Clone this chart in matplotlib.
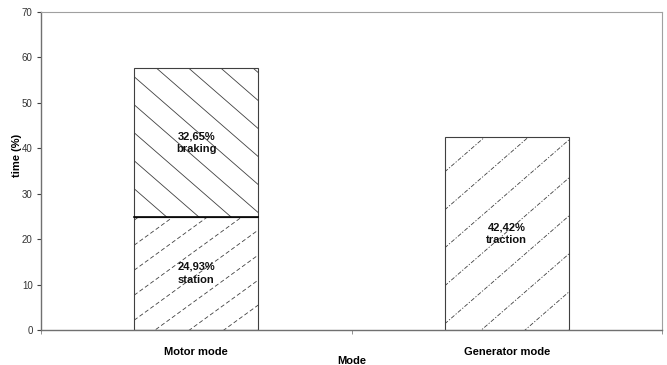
import numpy as np
import matplotlib
matplotlib.use("Agg")
import matplotlib.pyplot as plt
from matplotlib.transforms import IdentityTransform

plt.rcParams['font.family'] = ['Liberation Sans', 'DejaVu Sans']

modes = ["Motor mode", "Generator mode"]
station = [24.93, 0.0]
braking = [32.65, 0.0]
traction = [0.0, 42.42]


def fmt(v):
    return ("%.2f%%" % v).replace(".", ",")


def hatch_lines(ax, patch, angle, step, dashes, color="#404040", lw=0.6):
    # draw slanted lines in screen space, clipped to the bar
    bb = patch.get_window_extent()
    x0, y0, x1, y1 = bb.x0, bb.y0, bb.x1, bb.y1
    m = np.tan(np.radians(angle))
    w = x1 - x0
    h = y1 - y0
    lo = min(0, -m * w) - step
    hi = max(h, h - m * w) + step
    for c in np.arange(lo, hi, step):
        xs = np.array([x0, x1])
        ys = y0 + c + m * (xs - x0)
        ln, = ax.plot(xs, ys, color=color, lw=lw, transform=IdentityTransform())
        if dashes is not None:
            ln.set_dashes(dashes)
        ln.set_clip_path(patch)


fig = plt.figure(figsize=(6.67, 3.65), dpi=100)
ax = fig.add_axes([0.0615, 0.096, 0.931, 0.871])

x = np.arange(len(modes))
width = 0.4
b1 = ax.bar(x, station, width, color="white", edgecolor="#404040", lw=0.8, zorder=2)
b2 = ax.bar(x, braking, width, bottom=station, color="white", edgecolor="#404040", lw=0.8, zorder=2)
b3 = ax.bar(x, traction, width, color="white", edgecolor="#404040", lw=0.8, zorder=2)

# line between the stacked parts
ax.plot([x[0] - width / 2, x[0] + width / 2], [station[0], station[0]], color="black", lw=1.2, zorder=3)

ax.set_xlim(-0.5, 1.5)
ax.set_ylim(0, 70)
ax.set_yticks(np.arange(0, 71, 10))
ax.set_xticks(x)
ax.set_xticklabels(modes, fontweight="bold", fontsize=8)
ax.set_xticks([-0.5, 0.5, 1.5], minor=True)
ax.tick_params(axis="x", which="major", length=0, pad=12)
ax.tick_params(axis="x", which="minor", length=3, color="#808080")
ax.tick_params(axis="y", length=3, labelsize=7, labelcolor="#333333", color="#404040", pad=3)

ax.set_xlabel("Mode", fontweight="bold", fontsize=8)
ax.set_ylabel("time (%)", fontweight="bold", fontsize=8)
ax.xaxis.set_label_coords(0.5, -0.082)
ax.yaxis.set_label_coords(-0.031, 0.55)

for s in ["top", "right"]:
    ax.spines[s].set_color("#a0a0a0")
    ax.spines[s].set_linewidth(0.8)
ax.spines["left"].set_color("#707070")
ax.spines["bottom"].set_color("#707070")
ax.spines["left"].set_linewidth(1.0)
ax.spines["bottom"].set_linewidth(1.0)

fig.canvas.draw()
hatch_lines(ax, b2[0], -41, 28, None)
hatch_lines(ax, b1[0], 36, 25, (5, 3))
hatch_lines(ax, b3[1], 41, 38, (5, 2, 1.5, 2))

for bars, base, vals, name in [(b1, [0, 0], station, "station"),
                               (b2, station, braking, "braking"),
                               (b3, [0, 0], traction, "traction")]:
    for i, v in enumerate(vals):
        if v > 0:
            ax.text(x[i], base[i] + v / 2, fmt(v) + "\n" + name, ha="center", va="center",
                    fontsize=8, fontweight="bold", color="#111111", zorder=4,
                    linespacing=1.35)

fig.savefig("out.png", dpi=100)
